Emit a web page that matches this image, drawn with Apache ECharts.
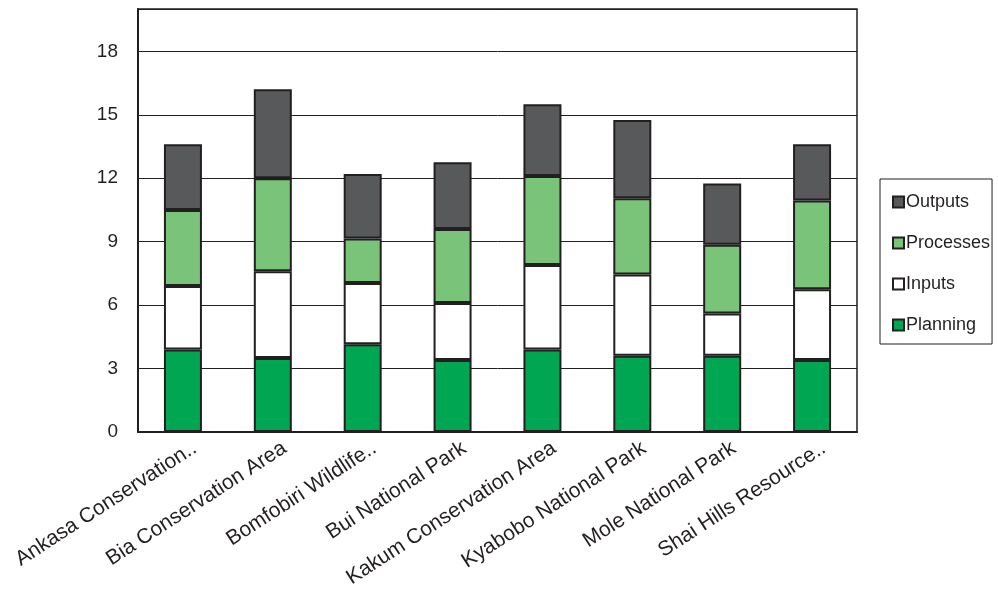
<!DOCTYPE html>
<html>
<head>
<meta charset="utf-8">
<script src="https://cdn.jsdelivr.net/npm/echarts@6/dist/echarts.min.js"></script>
<style>
  html, body { margin: 0; padding: 0; background: #fff; }
  #main { width: 998px; height: 609px; }
</style>
</head>
<body>
<div id="main"></div>
<script>
var categories = ['Ankasa Conservation..', 'Bia Conservation Area', 'Bomfobiri Wildlife..', 'Bui National Park',
  'Kakum Conservation Area', 'Kyabobo National Park', 'Mole National Park', 'Shai Hills Resource..'];
var planning  = [3.9, 3.5, 4.15, 3.4, 3.9, 3.6, 3.6, 3.4];
var inputs    = [3.0, 4.1, 2.9, 2.7, 4.0, 3.85, 2.0, 3.35];
var processes = [3.6, 4.4, 2.1, 3.5, 4.2, 3.6, 3.25, 4.2];
var outputs   = [3.1, 4.2, 3.05, 3.15, 3.4, 3.7, 2.9, 2.65];

var Chart = echarts.init(document.getElementById('main'));
var edge = '#231f20';

function bar(name, data, color) {
  return {
    name: name,
    type: 'bar',
    stack: 'total',
    barWidth: 38,
    data: data,
    itemStyle: { color: color, borderColor: edge, borderWidth: 2 }
  };
}

var option = {
  animation: false,
  textStyle: { fontFamily: 'Liberation Sans, Arial, sans-serif' },
  grid: {
    left: 138, right: 141, top: 9, bottom: 177,
    show: true, borderColor: edge, borderWidth: 1.5
  },
  legend: {
    orient: 'vertical',
    left: 880, top: 179,
    width: 117,
    data: ['Outputs', 'Processes', 'Inputs', 'Planning'],
    icon: 'rect',
    itemWidth: 11, itemHeight: 11,
    itemGap: 23,
    padding: [14, 2, 10, 12],
    borderColor: edge, borderWidth: 1,
    textStyle: { fontSize: 18, color: '#231f20', padding: [0, 0, 0, -3] }
  },
  xAxis: {
    type: 'category',
    data: categories,
    axisLine: { lineStyle: { color: edge, width: 2 } },
    axisTick: { show: false },
    axisLabel: { rotate: 33, fontSize: 21, color: '#231f20', interval: 0, margin: 22, padding: [0, -14, 0, 0] }
  },
  yAxis: {
    type: 'value',
    min: 0, max: 20, interval: 3,
    axisLine: { show: true, lineStyle: { color: edge, width: 2 } },
    axisTick: { show: false },
    axisLabel: { fontSize: 19, color: '#231f20', margin: 20, showMaxLabel: false },
    splitLine: { lineStyle: { color: edge, width: 1 } }
  },
  series: [
    bar('Planning', planning, '#00a651'),
    bar('Inputs', inputs, '#ffffff'),
    bar('Processes', processes, '#7ac47a'),
    bar('Outputs', outputs, '#58595b')
  ]
};

Chart.setOption(option);
</script>
</body>
</html>
